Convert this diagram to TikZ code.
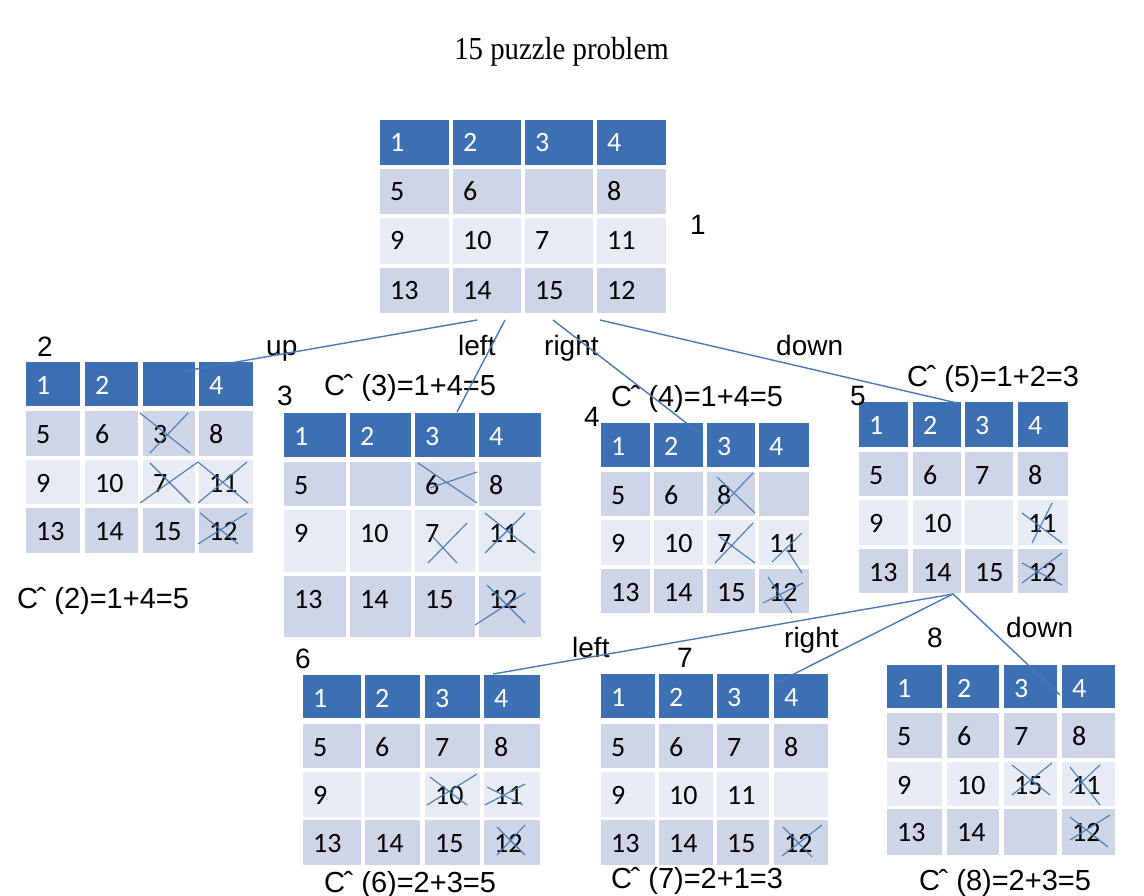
\documentclass[tikz,border=0pt]{standalone}
\usepackage{fontspec}
\setmainfont{Liberation Sans}
\newfontfamily\cellfont{Carlito}
\newfontfamily\titlefont{Liberation Serif}
\definecolor{hdrc}{RGB}{61,112,178}
\definecolor{dkc}{RGB}{206,213,230}
\definecolor{ltc}{RGB}{231,235,243}
\definecolor{linec}{RGB}{74,122,182}
\newcommand\pzcols[8]{\def\pzXa{#1}\def\pzXb{#2}\def\pzXc{#3}\def\pzXd{#4}\def\pzXe{#5}\def\pzXf{#6}\def\pzXg{#7}\def\pzXh{#8}}
\newcommand\pzrow[9]{%
  \fill[#2] (\pzXa,#4) rectangle (\pzXb,#5);
  \fill[#2] (\pzXc,#4) rectangle (\pzXd,#5);
  \fill[#2] (\pzXe,#4) rectangle (\pzXf,#5);
  \fill[#2] (\pzXg,#4) rectangle (\pzXh,#5);
  \node[num,text=#3] (#1c1) at (\pzXa+10,#4+32) {#6};
  \node[num,text=#3] (#1c2) at (\pzXc+10,#4+32) {#7};
  \node[num,text=#3] (#1c3) at (\pzXe+10,#4+32) {#8};
  \node[num,text=#3] (#1c4) at (\pzXg+10,#4+32) {#9};
}
\newcommand\pzC{C\kern-1.5ptˆ}
\tikzset{
  num/.style={anchor=base west, inner sep=0pt, font=\cellfont\fontsize{28}{30}\selectfont},
  lbl/.style={anchor=base west, inner sep=0pt, font=\fontsize{28}{30}\selectfont},
  cst/.style={anchor=base west, inner sep=0pt, font=\fontsize{29}{31}\selectfont},
  lblc/.style={anchor=base, inner sep=0pt, font=\fontsize{28}{30}\selectfont},
  conn/.style={draw=linec, line width=1.4pt},
  xmark/.style={draw=linec, line width=1.1pt},
}
\begin{document}
\begin{tikzpicture}[x=1pt,y=-1pt]
\useasboundingbox[fill=white] (0,0) rectangle (1144,896);
\node[anchor=base, inner sep=0pt, xscale=0.9, font=\titlefont\fontsize{32}{34}\selectfont] (title) at (561.5,60) {15 puzzle problem};

% board 1
\pzcols{380}{449}{453}{521}{525}{593}{597}{666}
\pzrow{b1r1}{hdrc}{white}{120}{165}{1}{2}{3}{4}
\pzrow{b1r2}{dkc}{black}{169}{214}{5}{6}{}{8}
\pzrow{b1r3}{ltc}{black}{218}{264}{9}{10}{7}{11}
\pzrow{b1r4}{dkc}{black}{268}{313}{13}{14}{15}{12}
% board 2
\pzcols{26}{80}{85}{138}{143}{195}{199}{253}
\pzrow{b2r1}{hdrc}{white}{362}{406}{1}{2}{}{4}
\pzrow{b2r2}{dkc}{black}{411}{456}{5}{6}{3}{8}
\pzrow{b2r3}{ltc}{black}{460}{504}{9}{10}{7}{11}
\pzrow{b2r4}{dkc}{black}{508}{553}{13}{14}{15}{12}
% board 3
\pzcols{284}{346}{350}{411}{415}{475}{479}{541}
\pzrow{b3r1}{hdrc}{white}{413}{457}{1}{2}{3}{4}
\pzrow{b3r2}{dkc}{black}{462}{506}{5}{}{6}{8}
\pzrow{b3r3}{ltc}{black}{510}{572}{9}{10}{7}{11}
\pzrow{b3r4}{dkc}{black}{576}{637}{13}{14}{15}{12}
% board 4
\pzcols{601}{650}{654}{703}{707}{755}{759}{809}
\pzrow{b4r1}{hdrc}{white}{423}{467}{1}{2}{3}{4}
\pzrow{b4r2}{dkc}{black}{472}{516}{5}{6}{8}{}
\pzrow{b4r3}{ltc}{black}{520}{565}{9}{10}{7}{11}
\pzrow{b4r4}{dkc}{black}{569}{613}{13}{14}{15}{12}
% board 5
\pzcols{859}{908}{913}{961}{965}{1013}{1018}{1068}
\pzrow{b5r1}{hdrc}{white}{402}{447}{1}{2}{3}{4}
\pzrow{b5r2}{dkc}{black}{452}{496}{5}{6}{7}{8}
\pzrow{b5r3}{ltc}{black}{500}{545}{9}{10}{}{11}
\pzrow{b5r4}{dkc}{black}{549}{593}{13}{14}{15}{12}
% board 6
\pzcols{303}{361}{365}{420}{425}{480}{484}{540}
\pzrow{b6r1}{hdrc}{white}{675}{718}{1}{2}{3}{4}
\pzrow{b6r2}{dkc}{black}{724}{768}{5}{6}{7}{8}
\pzrow{b6r3}{ltc}{black}{772}{817}{9}{}{10}{11}
\pzrow{b6r4}{dkc}{black}{820}{865}{13}{14}{15}{12}
% board 7
\pzcols{601}{655}{659}{713}{717}{769}{774}{828}
\pzrow{b7r1}{hdrc}{white}{674}{718}{1}{2}{3}{4}
\pzrow{b7r2}{dkc}{black}{724}{768}{5}{6}{7}{8}
\pzrow{b7r3}{ltc}{black}{772}{817}{9}{10}{11}{}
\pzrow{b7r4}{dkc}{black}{820}{865}{13}{14}{15}{12}
% board 8
\pzcols{887}{942}{947}{999}{1004}{1057}{1062}{1115}
\pzrow{b8r1}{hdrc}{white}{665}{708}{1}{2}{3}{4}
\pzrow{b8r2}{dkc}{black}{713}{758}{5}{6}{7}{8}
\pzrow{b8r3}{ltc}{black}{762}{806}{9}{10}{15}{11}
\pzrow{b8r4}{dkc}{black}{809}{855}{13}{14}{}{12}

% cross marks
\draw[xmark] (140,413) -- (190,453) (150,453) -- (188,413);
\draw[xmark] (150,463) -- (190,503) (140,503) -- (198,462);
\draw[xmark] (198,462) -- (248,503) (198,503) -- (247,462);
\draw[xmark] (198,544) -- (247,513) (200,513) -- (238,544);

\draw[xmark] (418,463) -- (477,503) (430,488) -- (477,472);
\draw[xmark] (428,563) -- (467,523) (433,537) -- (457,563);
\draw[xmark] (485,553) -- (525,513) (485,513) -- (535,553);
\draw[xmark] (475,625) -- (525,593) (487,585) -- (525,623);

\draw[xmark] (715,513) -- (753,473) (717,477) -- (755,513);
\draw[xmark] (715,563) -- (753,523) (720,537) -- (755,563);
\draw[xmark] (772,562) -- (802,533) (787,550) -- (802,573);
\draw[xmark] (763,603) -- (803,583) (768,577) -- (792,613);

\draw[xmark] (1032,543) -- (1052,503) (1022,513) -- (1062,543);
\draw[xmark] (1022,583) -- (1062,553) (1022,563) -- (1062,585);

\draw[xmark] (427,805) -- (477,774) (430,777) -- (467,805);
\draw[xmark] (485,805) -- (525,784) (487,787) -- (523,805);
\draw[xmark] (497,855) -- (525,825) (497,827) -- (525,855);

\draw[xmark] (782,856) -- (822,825) (783,827) -- (812,857);

\draw[xmark] (1012,795) -- (1052,763) (1012,765) -- (1050,795);
\draw[xmark] (1070,793) -- (1100,765) (1070,767) -- (1100,805);
\draw[xmark] (1070,840) -- (1110,815) (1070,817) -- (1108,847);

% labels
\node[lblc] (n1) at (698,235) {1};
\node[lblc] (n2) at (45,356) {2};
\node[lbl] (lup) at (266,355) {up};
\node[lbl] (lleft) at (458,355) {left};
\node[lbl] (lright) at (544,355) {right};
\node[lbl] (ldown) at (776,355) {down};
\node[cst] (c3) at (324,395) {\pzC{} (3)=1+4=5};
\node[lblc] (n3) at (285,405) {3};
\node[cst] (c2) at (17,608) {\pzC{} (2)=1+4=5};
\node[cst] (c4) at (611,406) {\pzC{} (4)=1+4=5};
\node[lblc] (n4) at (592,426) {4};
\node[cst] (c5) at (907,386) {\pzC{} (5)=1+2=3};
\node[lblc] (n5) at (858,405) {5};
\node[lbl] (lleft2) at (572,657) {left};
\node[lbl] (lright2) at (784,647) {right};
\node[lblc] (n7) at (685,667) {7};
\node[lblc] (n6) at (303,668) {6};
\node[lblc] (n8) at (935,647) {8};
\node[lbl] (ldown2) at (1006,637) {down};
\node[cst] (c6) at (324,892) {\pzC{} (6)=2+3=5};
\node[cst] (c7) at (611,888) {\pzC{} (7)=2+1=3};
\node[cst] (c8) at (919,890) {\pzC{} (8)=2+3=5};

% connectors
\coordinate (p1a) at (477,320);
\coordinate (p1b) at (505,320);
\coordinate (p1c) at (553,320);
\coordinate (p1d) at (600,320);
\coordinate (e2) at (185,371);
\coordinate (e3) at (457,412);
\coordinate (e4) at (698,432);
\coordinate (e5) at (957,403);
\coordinate (p5) at (953,594);
\coordinate (e6) at (493,674);
\coordinate (e7) at (774,684);
\coordinate (e8) at (1060,695);
\draw[conn] (p1a) -- (e2);
\draw[conn] (p1b) -- (e3);
\draw[conn] (p1c) -- (e4);
\draw[conn] (p1d) -- (e5);
\draw[conn] (p5) -- (e6);
\draw[conn] (p5) -- (e7);
\draw[conn] (p5) -- (e8);
\end{tikzpicture}
\end{document}
